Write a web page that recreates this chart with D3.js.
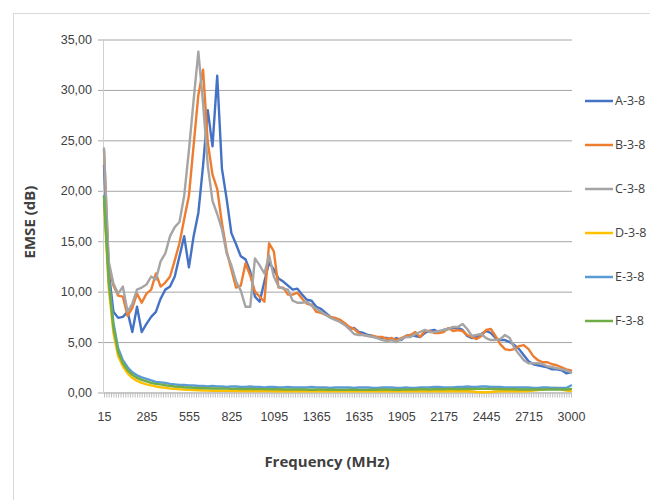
<!DOCTYPE html>
<html>
<head>
<meta charset="utf-8">
<script src="https://cdn.jsdelivr.net/npm/d3@7"></script>
<style>
  body { margin: 0; background: #fff; }
  svg { display: block; font-family: "Liberation Sans Narrow", "Open Sans", sans-serif; }
</style>
</head>
<body>
<div id="chart"></div>
<script>
// x categories: 15 MHz steps, last category is 3000
const frequencies = d3.range(15, 2971, 15).concat([3000]);
const labelEvery = 18;
const yTicks = [0, 5, 10, 15, 20, 25, 30, 35];

const seriesNames = ['A-3-8', 'B-3-8', 'C-3-8', 'D-3-8', 'E-3-8', 'F-3-8'];
const seriesColors = ['#4472C4', '#ED7D31', '#A5A5A5', '#FFC000', '#5B9BD5', '#70AD47'];

// values read every second category (30 MHz)
const a38 = [22.5, 12.0, 8.0, 7.4, 7.5, 8.0, 6.0, 8.5, 6.0, 6.8,
  7.5, 8.0, 9.3, 10.2, 10.5, 11.5, 13.5, 15.5, 12.4, 15.5,
  17.8, 22.5, 28.0, 24.4, 31.4, 22.2, 19.2, 15.8, 14.7, 13.5,
  13.2, 12.0, 9.5, 9.0, 11.0, 12.9, 12.2, 11.3, 11.0, 10.6,
  10.2, 10.3, 9.7, 9.2, 9.1, 8.5, 8.3, 7.9, 7.5, 7.3,
  7.2, 6.8, 6.3, 6.4, 6.0, 5.9, 5.7, 5.6, 5.4, 5.4,
  5.4, 5.2, 5.4, 5.2, 5.6, 5.7, 5.6, 5.5, 5.9, 6.1,
  6.2, 6.0, 6.2, 6.3, 6.4, 6.4, 6.2, 5.6, 5.4, 5.5,
  5.8, 6.1, 5.9, 5.4, 5.2, 5.2, 5.0, 4.7, 4.3, 3.7,
  3.1, 2.8, 2.7, 2.6, 2.5, 2.3, 2.3, 2.2, 1.9, 2.0];
const b38 = [24.0, 12.5, 10.6, 9.6, 9.5, 7.6, 8.4, 9.8, 8.9, 9.8,
  10.2, 11.8, 10.5, 10.9, 11.5, 13.1, 14.8, 17.2, 19.5, 24.5,
  29.5, 32.0, 24.8, 21.6, 20.2, 16.8, 14.0, 12.2, 10.4, 10.6,
  12.8, 11.6, 10.0, 9.5, 9.0, 14.8, 14.0, 10.4, 10.4, 9.7,
  9.7, 9.9, 9.3, 8.8, 8.7, 8.0, 7.9, 7.7, 7.5, 7.4,
  7.2, 6.9, 6.5, 6.3, 5.9, 5.7, 5.6, 5.6, 5.5, 5.5,
  5.3, 5.4, 5.2, 5.4, 5.6, 5.7, 6.0, 5.5, 6.1, 6.1,
  5.9, 5.9, 6.0, 6.4, 6.1, 6.2, 6.1, 5.7, 5.5, 5.3,
  5.6, 6.2, 6.3, 5.6, 4.8, 4.3, 4.2, 4.3, 4.6, 4.7,
  4.3, 3.6, 3.2, 3.0, 3.0, 2.8, 2.7, 2.5, 2.3, 2.2];
const c38 = [24.2, 13.0, 10.8, 9.8, 10.5, 8.0, 8.8, 10.2, 10.4, 10.7,
  11.5, 11.2, 13.0, 13.8, 15.5, 16.4, 16.9, 19.5, 24.0, 29.0,
  33.8, 28.7, 22.5, 19.0, 17.7, 16.2, 13.8, 12.6, 11.0, 10.1,
  8.5, 8.5, 13.3, 12.6, 11.8, 13.6, 11.5, 10.5, 10.3, 10.2,
  9.1, 8.9, 8.9, 9.0, 8.6, 8.3, 8.0, 7.7, 7.4, 7.2,
  7.0, 6.7, 6.3, 5.8, 5.7, 5.7, 5.6, 5.5, 5.4, 5.2,
  5.1, 5.2, 5.0, 5.3, 5.5, 5.5, 5.8, 6.0, 6.2, 6.0,
  6.0, 6.1, 6.2, 6.3, 6.5, 6.5, 6.8, 6.3, 5.6, 5.7,
  5.8, 5.4, 5.2, 5.2, 5.3, 5.7, 5.4, 4.4, 3.8, 3.2,
  2.9, 2.9, 2.9, 2.8, 2.6, 2.5, 2.4, 2.3, 2.2, 2.0];
const d38 = [18.8, 10.4, 5.9, 3.6, 2.6, 1.9, 1.45, 1.15, 0.95, 0.8,
  0.7, 0.6, 0.52, 0.46, 0.4, 0.36, 0.32, 0.3, 0.26, 0.24,
  0.22, 0.2, 0.2, 0.18, 0.18, 0.18, 0.16, 0.16, 0.15, 0.15,
  0.15, 0.15, 0.14, 0.14, 0.14, 0.14, 0.13, 0.13, 0.13, 0.13,
  0.12, 0.12, 0.12, 0.12, 0.12, 0.12, 0.12, 0.12, 0.12, 0.12,
  0.12, 0.12, 0.12, 0.12, 0.12, 0.12, 0.12, 0.12, 0.12, 0.12,
  0.12, 0.12, 0.12, 0.12, 0.12, 0.12, 0.12, 0.12, 0.12, 0.12,
  0.12, 0.12, 0.12, 0.12, 0.12, 0.12, 0.12, 0.12, 0.1, 0.05,
  0.03, 0.03, 0.05, 0.1, 0.12, 0.12, 0.12, 0.12, 0.12, 0.12,
  0.15, 0.2, 0.25, 0.3, 0.4, 0.45, 0.45, 0.3, 0.2, 0.15];
const e38 = [19.5, 11.5, 6.9, 4.4, 3.2, 2.5, 2.0, 1.7, 1.5, 1.35,
  1.2, 1.05, 1.0, 0.95, 0.85, 0.8, 0.75, 0.75, 0.7, 0.7,
  0.65, 0.65, 0.6, 0.65, 0.6, 0.6, 0.55, 0.6, 0.6, 0.55,
  0.55, 0.6, 0.55, 0.55, 0.5, 0.55, 0.55, 0.5, 0.5, 0.55,
  0.5, 0.5, 0.5, 0.5, 0.55, 0.5, 0.5, 0.5, 0.45, 0.5,
  0.5, 0.5, 0.5, 0.45, 0.5, 0.5, 0.5, 0.45, 0.45, 0.5,
  0.5, 0.5, 0.45, 0.45, 0.5, 0.45, 0.45, 0.5, 0.5, 0.5,
  0.55, 0.55, 0.5, 0.5, 0.5, 0.55, 0.55, 0.6, 0.55, 0.55,
  0.6, 0.6, 0.55, 0.55, 0.55, 0.5, 0.5, 0.5, 0.5, 0.5,
  0.5, 0.45, 0.45, 0.5, 0.5, 0.45, 0.45, 0.45, 0.45, 0.7];
const f38 = [19.4, 11.0, 6.4, 4.0, 2.9, 2.2, 1.75, 1.45, 1.25, 1.1,
  0.95, 0.85, 0.8, 0.72, 0.66, 0.6, 0.56, 0.52, 0.5, 0.46,
  0.45, 0.42, 0.42, 0.4, 0.4, 0.38, 0.38, 0.36, 0.36, 0.35,
  0.35, 0.34, 0.34, 0.33, 0.33, 0.32, 0.32, 0.32, 0.3, 0.3,
  0.3, 0.3, 0.3, 0.28, 0.28, 0.28, 0.3, 0.28, 0.28, 0.28,
  0.26, 0.26, 0.28, 0.28, 0.26, 0.26, 0.26, 0.28, 0.28, 0.3,
  0.3, 0.28, 0.28, 0.28, 0.3, 0.3, 0.3, 0.32, 0.32, 0.3,
  0.32, 0.32, 0.32, 0.34, 0.34, 0.32, 0.34, 0.34, 0.34, 0.36,
  0.36, 0.36, 0.36, 0.34, 0.34, 0.32, 0.32, 0.32, 0.3, 0.3,
  0.3, 0.3, 0.3, 0.3, 0.3, 0.3, 0.3, 0.3, 0.3, 0.35];

const seriesValues = [a38, b38, c38, d38, e38, f38];

const W = 650, H = 500;
const margin = { top: 39.5, right: 79, bottom: 107.5, left: 104 };

const svg = d3.select('#chart').append('svg')
  .attr('width', W).attr('height', H);

// chart area border
svg.append('rect')
  .attr('x', 13.5).attr('y', 13.5)
  .attr('width', W).attr('height', H)
  .attr('fill', 'none').attr('stroke', '#d9d9d9');

const x = d3.scalePoint()
  .domain(frequencies)
  .range([margin.left, W - margin.right]);

const y = d3.scaleLinear()
  .domain([0, 35])
  .range([H - margin.bottom, margin.top]);

// gridlines with small outside ticks
svg.append('g')
  .attr('transform', `translate(${margin.left},0)`)
  .call(d3.axisLeft(y).tickValues(yTicks)
    .tickSize(-(W - margin.left - margin.right))
    .tickSizeOuter(0)
    .tickFormat(d => d.toFixed(2).replace('.', ',')))
  .call(g => g.select('.domain').remove())
  .call(g => g.selectAll('line').attr('stroke', '#a6a6a6').attr('x1', -6).attr('x2', W - margin.left - margin.right + 1))
  .call(g => g.selectAll('text').attr('x', -12).attr('font-size', '12.5px').attr('fill', '#404040'));

// y axis line
svg.append('line')
  .attr('x1', margin.left - 0.5).attr('x2', margin.left - 0.5)
  .attr('y1', margin.top).attr('y2', H - margin.bottom)
  .attr('stroke', '#d0d0d0');

// x axis with a tick for every category
svg.append('g')
  .attr('transform', `translate(0,${H - margin.bottom})`)
  .call(d3.axisBottom(x).tickSize(5).tickSizeOuter(0)
    .tickFormat((d, i) => i % labelEvery === 0 ? d : ''))
  .call(g => g.select('.domain').attr('stroke', '#bfbfbf'))
  .call(g => g.selectAll('line').attr('stroke', '#bfbfbf'))
  .call(g => g.selectAll('text').attr('y', 20).attr('font-size', '12.5px').attr('fill', '#404040'));

const line = d3.line()
  .x((d, j) => x(frequencies[j * 2]))
  .y(d => y(d));

seriesValues.forEach((vals, k) => {
  svg.append('path')
    .datum(vals)
    .attr('d', line)
    .attr('fill', 'none')
    .attr('stroke', seriesColors[k])
    .attr('stroke-width', 2.4)
    .attr('stroke-linejoin', 'round')
    .attr('stroke-linecap', 'round');
});

// axis titles
svg.append('text')
  .attr('x', 327).attr('y', 467)
  .attr('text-anchor', 'middle')
  .attr('font-size', '15px').attr('font-weight', 'bold').attr('fill', '#404040')
  .text('Frequency (MHz)');

svg.append('text')
  .attr('transform', 'translate(35,222) rotate(-90)')
  .attr('text-anchor', 'middle')
  .attr('font-size', '15px').attr('font-weight', 'bold').attr('fill', '#404040')
  .text('EMSE (dB)');

// legend
const legend = svg.append('g');
seriesNames.forEach((name, k) => {
  const ly = 101 + k * 44;
  legend.append('line')
    .attr('x1', 585).attr('x2', 613)
    .attr('y1', ly).attr('y2', ly)
    .attr('stroke', seriesColors[k]).attr('stroke-width', 2.5);
  legend.append('text')
    .attr('x', 615).attr('y', ly).attr('dy', '0.35em')
    .attr('font-size', '12.5px').attr('fill', '#404040')
    .text(name);
});
</script>
</body>
</html>
